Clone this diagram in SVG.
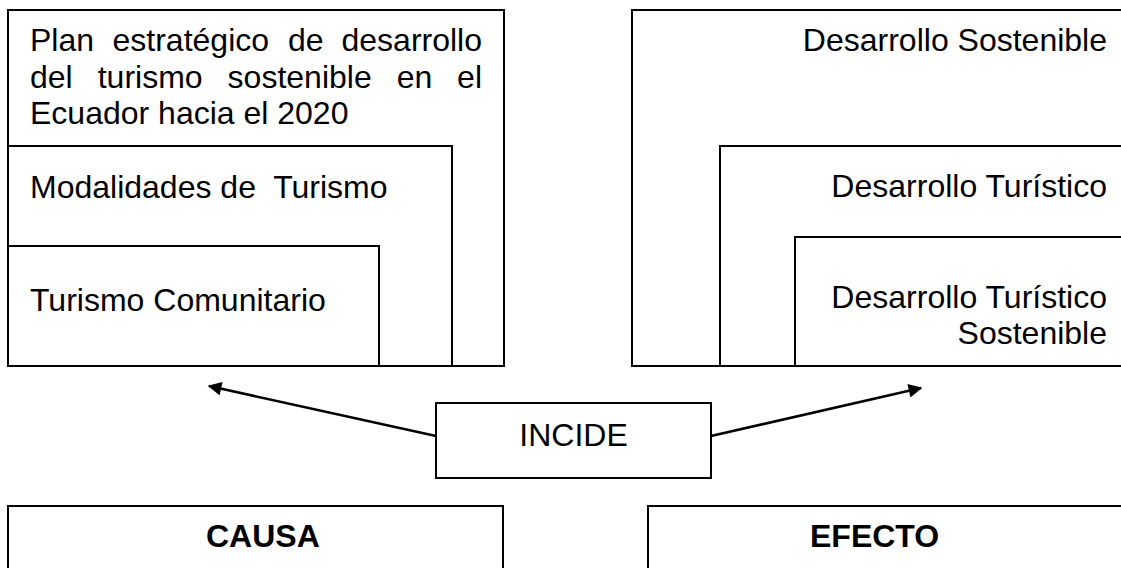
<svg xmlns="http://www.w3.org/2000/svg" width="1121" height="568" viewBox="0 0 1121 568">
<style>
.box{fill:none;stroke:#000;stroke-width:2}
.t{font-family:"Liberation Sans",Arial,sans-serif;font-size:32px;fill:#000}
.b{font-weight:bold}
.e{text-anchor:end}
.m{text-anchor:middle}
.conn{stroke:#000;stroke-width:2.5;fill:none}
</style>
<defs>
<marker id="ah" viewBox="0 0 10 10" refX="9" refY="5" markerWidth="6" markerHeight="5.5" markerUnits="strokeWidth" orient="auto">
<path d="M0,0 L10,5 L0,10 z" fill="#000"/>
</marker>
</defs>
<rect width="1121" height="568" fill="#fff"/>
<g id="plan">
<rect class="box" x="8" y="10" width="496" height="356"/>
<text class="t" y="51"><tspan x="30">Plan</tspan><tspan x="112.5">estratégico</tspan><tspan x="288">de</tspan></text>
<text class="t e" x="482" y="51">desarrollo</text>
<text class="t" y="88"><tspan x="30">del</tspan><tspan x="97.7">turismo</tspan><tspan x="227.6">sostenible</tspan><tspan x="396.7">en</tspan></text>
<text class="t e" x="482" y="88">el</text>
<text class="t" x="30" y="124">Ecuador hacia el 2020</text>
</g>
<g id="modalidades">
<rect class="box" x="8" y="146" width="444" height="220"/>
<text class="t" x="30" y="198" xml:space="preserve">Modalidades de  Turismo</text>
</g>
<g id="comunitario">
<rect class="box" x="8" y="246" width="371" height="120"/>
<text class="t" x="30" y="311">Turismo Comunitario</text>
</g>
<g id="des-sostenible">
<rect class="box" x="632" y="10" width="500" height="356"/>
<text class="t e" x="1107" y="51">Desarrollo Sostenible</text>
</g>
<g id="des-turistico">
<rect class="box" x="720" y="146" width="412" height="220"/>
<text class="t e" x="1107" y="197">Desarrollo Turístico</text>
</g>
<g id="des-tur-sostenible">
<rect class="box" x="795" y="237" width="337" height="129"/>
<text class="t e" x="1107" y="308">Desarrollo Turístico</text>
<text class="t e" x="1107" y="344">Sostenible</text>
</g>
<g id="incide">
<rect class="box" x="436" y="403" width="275" height="75"/>
<text class="t m" x="573.5" y="446">INCIDE</text>
</g>
<g id="causa">
<rect class="box" x="8" y="506" width="495" height="80"/>
<text class="t b" x="206" y="547">CAUSA</text>
</g>
<g id="efecto">
<rect class="box" x="648" y="506" width="495" height="80"/>
<text class="t b" x="810" y="547">EFECTO</text>
</g>
<g id="connectors">
<line class="conn" x1="436" y1="436" x2="209" y2="386" marker-end="url(#ah)"/>
<line class="conn" x1="711" y1="436" x2="921" y2="388" marker-end="url(#ah)"/>
</g>
</svg>
